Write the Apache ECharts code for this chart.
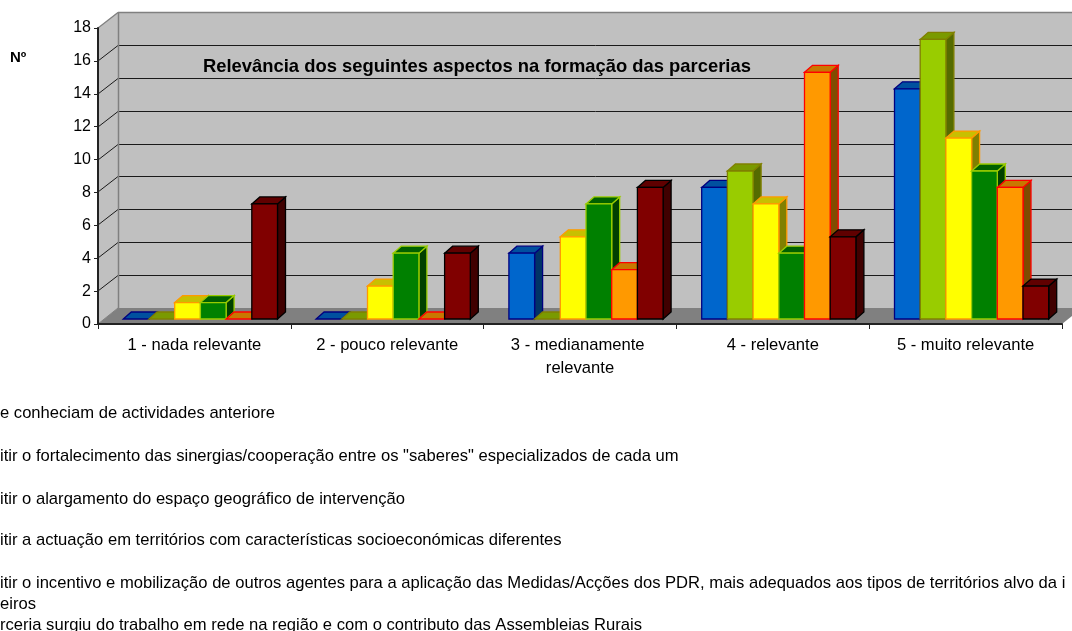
<!DOCTYPE html>
<html><head><meta charset="utf-8">
<style>html,body{margin:0;padding:0;background:#fff;overflow:hidden}#c{width:1072px;height:631px}</style>
<script src="https://cdn.jsdelivr.net/npm/echarts@6/dist/echarts.min.js"></script>
</head><body><div id="c"></div>
<script>
const categories = ['1 - nada relevante','2 - pouco relevante','3 - medianamente relevante','4 - relevante','5 - muito relevante'];
const blueValues   = [0,0,4,8,14];
const limeValues   = [0,0,0,9,17];
const yellowValues = [1,2,5,7,11];
const greenValues  = [1,4,7,4,9];
const orangeValues = [0,0,3,15,8];
const maroonValues = [7,4,8,5,2];
const yTicks = [0,2,4,6,8,10,12,14,16,18];
const titleText = 'Relevância dos seguintes aspectos na formação das parcerias';
const yName = 'Nº';
const legendLines = [
 'e conheciam de actividades anteriore',
 'itir o fortalecimento das sinergias/cooperação entre os "saberes" especializados de cada um',
 'itir o alargamento do espaço geográfico de intervenção',
 'itir a actuação em territórios com características socioeconómicas diferentes',
 'itir o incentivo e mobilização de outros agentes para a aplicação das Medidas/Acções dos PDR, mais adequados aos tipos de territórios alvo da i',
 'eiros',
 'rceria surgiu do trabalho em rede na região e com o contributo das Assembleias Rurais'
];
const legendY = [413.5,456,499,540,583,604,625];

const palette = [
 {name:'blue',  v:blueValues,  fill:'#0066CC',line:'#000080',top:'#00509F',side:'#003366'},
 {name:'lime',  v:limeValues,  fill:'#99CC00',line:'#808000',top:'#7A9A00',side:'#556B00'},
 {name:'yellow',v:yellowValues,fill:'#FFFF00',line:'#FF9900',top:'#C8C000',side:'#808000'},
 {name:'green', v:greenValues, fill:'#008000',line:'#99CC00',top:'#006000',side:'#004000'},
 {name:'orange',v:orangeValues,fill:'#FF9900',line:'#FF0000',top:'#C87800',side:'#804C00'},
 {name:'maroon',v:maroonValues,fill:'#800000',line:'#000000',top:'#600000',side:'#400000'}
];
const FONT = '"Liberation Sans", Arial, sans-serif';
const WALL_DX = 20, WALL_DY = 16, FRONT_DX = 6, FRONT_DY = 5, BAR_DX = 8, BAR_DY = 7;
const BAR_W = 25.7;

function poly(points, fill, stroke, lw){
  return {type:'polygon',shape:{points},style:{fill,stroke,lineWidth:lw||0}};
}
function line(x1,y1,x2,y2,stroke,lw){
  return {type:'line',shape:{x1,y1,x2,y2},style:{stroke,lineWidth:lw||1}};
}
function renderWalls(params, api){
  const cs = params.coordSys, L = cs.x, R = cs.x + cs.width;
  const y0 = api.coord([0,0])[1], yT = api.coord([0,18])[1];
  const ch = [];
  ch.push(poly([[L,yT],[L+WALL_DX,yT-WALL_DY],[L+WALL_DX,y0-WALL_DY],[L,y0]],'#C0C0C0'));
  ch.push(poly([[L+WALL_DX,yT-WALL_DY],[R+WALL_DX,yT-WALL_DY],[R+WALL_DX,y0-WALL_DY],[L+WALL_DX,y0-WALL_DY]],'#C0C0C0'));
  ch.push(poly([[L,y0],[L+WALL_DX,y0-WALL_DY],[R+WALL_DX,y0-WALL_DY],[R,y0]],'#808080'));
  yTicks.forEach(t=>{
    if(t===0) return;
    const y = Math.round(api.coord([0,t])[1]);
    const by = y-WALL_DY+.5;
    if(t===18){
      ch.push(line(L+WALL_DX,by,R+WALL_DX,by,'#808080',1.3));
      ch.push(line(L,y,L+WALL_DX,by,'#808080',1.3));
    } else {
      ch.push(line(L+WALL_DX,by,R+WALL_DX,by,'#1a1a1a',1));
      ch.push(line(L,y,L+WALL_DX,by,'#1a1a1a',1));
    }
  });
  ch.push(line(L+WALL_DX+.5,yT-WALL_DY,L+WALL_DX+.5,y0-WALL_DY,'#808080',1.5));
  ch.push(line(L,y0,L+WALL_DX,y0-WALL_DY,'#808080',1));
  return {type:'group',children:ch};
}
function makeBarRender(sIdx){
  const c = palette[sIdx];
  return function(params, api){
    const i = api.value(0), v = api.value(1);
    const base = api.coord([i,0]), topP = api.coord([i,v]);
    const x = base[0]-BAR_W*3+FRONT_DX+sIdx*BAR_W;
    const r = x+BAR_W, yb = base[1]-FRONT_DY, yt = topP[1]-FRONT_DY;
    const ch = [];
    ch.push(poly([[r,yt],[r+BAR_DX,yt-BAR_DY],[r+BAR_DX,yb-BAR_DY],[r,yb]],c.side,c.line,1.3));
    ch.push(poly([[x,yt],[x+BAR_DX,yt-BAR_DY],[r+BAR_DX,yt-BAR_DY],[r,yt]],c.top,c.line,1.3));
    if(v>0) ch.push({type:'rect',shape:{x,y:yt,width:BAR_W,height:yb-yt},style:{fill:c.fill,stroke:c.line,lineWidth:1.3}});
    return {type:'group',children:ch};
  };
}
const series = [{type:'custom',name:'walls',renderItem:renderWalls,data:[[0,0]],encode:{x:0,y:1},silent:true,z:1}]
 .concat(palette.map((c,s)=>({
   type:'custom',name:c.name,renderItem:makeBarRender(s),
   data:c.v.map((v,i)=>[i,v]),encode:{x:0,y:1},z:2+s
 })));

const graphicEls = legendLines.map((t,i)=>({
  type:'text',left:0,top:legendY[i]-8.5,
  style:{text:t,font:'16.6px '+FONT,fill:'#000',textVerticalAlign:'top'}
}));
graphicEls.push({type:'text',left:10,top:50,style:{text:yName,font:'bold 15px '+FONT,fill:'#000'}});

const chart = echarts.init(document.getElementById('c'),null,{renderer:'canvas',width:1072,height:631});
chart.setOption({
  animation:false,
  backgroundColor:'#fff',
  title:{text:titleText,left:203,top:58,padding:0,textStyle:{fontFamily:FONT,fontSize:18.4,fontWeight:'bold',color:'#000'}},
  grid:{left:98,top:28,width:964,height:296,containLabel:false},
  xAxis:{type:'category',data:categories,z:10,
    axisLine:{show:true,lineStyle:{color:'#222',width:2}},
    axisTick:{show:true,alignWithLabel:false,length:5,lineStyle:{color:'#222',width:1}},
    axisLabel:{interval:0,margin:10,color:'#000',fontFamily:FONT,fontSize:16.6,width:185,overflow:'break',lineHeight:23}},
  yAxis:{type:'value',min:0,max:18,interval:2,z:10,
    axisLine:{show:true,lineStyle:{color:'#222',width:2}},
    axisTick:{show:true,length:4,lineStyle:{color:'#222',width:1}},
    splitLine:{show:false},
    axisLabel:{margin:7,color:'#000',fontFamily:FONT,fontSize:16,padding:[3,0,0,0]}},
  series,
  graphic:graphicEls
});
</script></body></html>
